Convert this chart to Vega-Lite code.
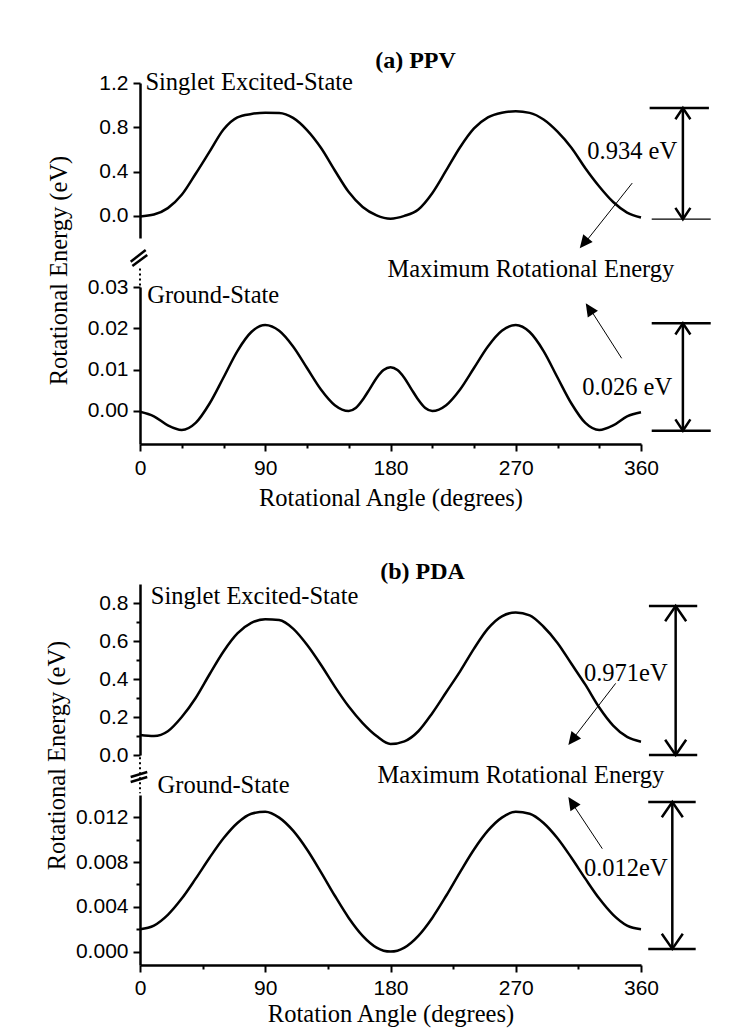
{
  "$schema": "https://vega.github.io/schema/vega-lite/v6.json",
  "background": "white",
  "padding": {"left": 44, "top": 48, "right": 5, "bottom": 5},
  "bounds": "flush",
  "spacing": 0,
  "resolve": {"scale": {"x": "independent", "y": "independent"}, "axis": {"x": "independent", "y": "independent"}},
  "config": {
    "view": {"stroke": null},
    "axis": {"labelFont": "Liberation Sans", "labelFontSize": 21, "labelColor": "black", "titleFont": "Liberation Serif", "titleFontSize": 24.5, "titleFontWeight": "normal", "titleColor": "black", "domainColor": "black", "domainWidth": 2.5, "tickColor": "black", "tickWidth": 2, "grid": false, "labelFlush": false, "labelOverlap": false},
    "title": {"font": "Liberation Serif", "fontSize": 24, "fontWeight": "bold", "color": "black"},
    "text": {"font": "Liberation Serif", "fontSize": 24.5, "color": "black"}
  },
  "datasets": {
    "ppv_singlet": [
      {"angle": 0, "energy": -0.005}, {"angle": 10, "energy": 0.012}, {"angle": 20, "energy": 0.07}, {"angle": 30, "energy": 0.19},
      {"angle": 40, "energy": 0.38}, {"angle": 50, "energy": 0.58}, {"angle": 60, "energy": 0.78}, {"angle": 70, "energy": 0.89},
      {"angle": 80, "energy": 0.92}, {"angle": 90, "energy": 0.932}, {"angle": 100, "energy": 0.93}, {"angle": 110, "energy": 0.885},
      {"angle": 120, "energy": 0.775}, {"angle": 130, "energy": 0.615}, {"angle": 140, "energy": 0.41}, {"angle": 150, "energy": 0.215},
      {"angle": 160, "energy": 0.08}, {"angle": 170, "energy": 0.005}, {"angle": 180, "energy": -0.025}, {"angle": 190, "energy": 0.0},
      {"angle": 200, "energy": 0.058}, {"angle": 210, "energy": 0.205}, {"angle": 220, "energy": 0.41}, {"angle": 230, "energy": 0.62},
      {"angle": 240, "energy": 0.79}, {"angle": 250, "energy": 0.89}, {"angle": 260, "energy": 0.932}, {"angle": 270, "energy": 0.945},
      {"angle": 280, "energy": 0.93}, {"angle": 290, "energy": 0.87}, {"angle": 300, "energy": 0.76}, {"angle": 310, "energy": 0.615},
      {"angle": 320, "energy": 0.43}, {"angle": 330, "energy": 0.265}, {"angle": 340, "energy": 0.125}, {"angle": 350, "energy": 0.03},
      {"angle": 360, "energy": -0.015}
    ],
    "ppv_ground": [
      {"angle": 0, "energy": -0.0002}, {"angle": 10, "energy": -0.0013}, {"angle": 20, "energy": -0.0035}, {"angle": 30, "energy": -0.0046},
      {"angle": 40, "energy": -0.0029}, {"angle": 50, "energy": 0.0018}, {"angle": 60, "energy": 0.0081}, {"angle": 70, "energy": 0.0145},
      {"angle": 80, "energy": 0.0191}, {"angle": 90, "energy": 0.0208}, {"angle": 100, "energy": 0.0194}, {"angle": 110, "energy": 0.0156},
      {"angle": 120, "energy": 0.0104}, {"angle": 130, "energy": 0.0052}, {"angle": 140, "energy": 0.0014}, {"angle": 150, "energy": 0.0},
      {"angle": 155, "energy": 0.0007}, {"angle": 160, "energy": 0.0027}, {"angle": 165, "energy": 0.0053}, {"angle": 170, "energy": 0.008},
      {"angle": 175, "energy": 0.0099}, {"angle": 180, "energy": 0.0106}, {"angle": 185, "energy": 0.0099}, {"angle": 190, "energy": 0.008},
      {"angle": 195, "energy": 0.0053}, {"angle": 200, "energy": 0.0027}, {"angle": 205, "energy": 0.0007}, {"angle": 210, "energy": 0.0},
      {"angle": 220, "energy": 0.0014}, {"angle": 230, "energy": 0.0052}, {"angle": 240, "energy": 0.0104}, {"angle": 250, "energy": 0.0156},
      {"angle": 260, "energy": 0.0194}, {"angle": 270, "energy": 0.0208}, {"angle": 280, "energy": 0.0191}, {"angle": 290, "energy": 0.0145},
      {"angle": 300, "energy": 0.0081}, {"angle": 310, "energy": 0.0018}, {"angle": 320, "energy": -0.0029}, {"angle": 330, "energy": -0.0046},
      {"angle": 340, "energy": -0.0035}, {"angle": 350, "energy": -0.0013}, {"angle": 360, "energy": -0.0003}
    ],
    "pda_singlet": [
      {"angle": 0, "energy": 0.105}, {"angle": 10, "energy": 0.1}, {"angle": 20, "energy": 0.125}, {"angle": 30, "energy": 0.2},
      {"angle": 40, "energy": 0.3}, {"angle": 50, "energy": 0.425}, {"angle": 60, "energy": 0.545}, {"angle": 70, "energy": 0.64},
      {"angle": 80, "energy": 0.695}, {"angle": 90, "energy": 0.715}, {"angle": 100, "energy": 0.71}, {"angle": 110, "energy": 0.665},
      {"angle": 120, "energy": 0.58}, {"angle": 130, "energy": 0.475}, {"angle": 140, "energy": 0.36}, {"angle": 150, "energy": 0.255},
      {"angle": 160, "energy": 0.168}, {"angle": 170, "energy": 0.1}, {"angle": 180, "energy": 0.058}, {"angle": 190, "energy": 0.072},
      {"angle": 200, "energy": 0.125}, {"angle": 210, "energy": 0.22}, {"angle": 220, "energy": 0.33}, {"angle": 230, "energy": 0.44},
      {"angle": 240, "energy": 0.56}, {"angle": 250, "energy": 0.665}, {"angle": 260, "energy": 0.73}, {"angle": 270, "energy": 0.75},
      {"angle": 280, "energy": 0.735}, {"angle": 290, "energy": 0.675}, {"angle": 300, "energy": 0.59}, {"angle": 310, "energy": 0.48},
      {"angle": 320, "energy": 0.37}, {"angle": 330, "energy": 0.25}, {"angle": 340, "energy": 0.155}, {"angle": 350, "energy": 0.095},
      {"angle": 360, "energy": 0.07}
    ],
    "pda_ground": [
      {"angle": 0, "energy": 0.002}, {"angle": 10, "energy": 0.00233}, {"angle": 20, "energy": 0.00329}, {"angle": 30, "energy": 0.00474},
      {"angle": 40, "energy": 0.00652}, {"angle": 50, "energy": 0.00839}, {"angle": 60, "energy": 0.01013}, {"angle": 70, "energy": 0.0115},
      {"angle": 80, "energy": 0.01233}, {"angle": 90, "energy": 0.0125}, {"angle": 100, "energy": 0.01198}, {"angle": 110, "energy": 0.01081},
      {"angle": 120, "energy": 0.00913}, {"angle": 130, "energy": 0.00711}, {"angle": 140, "energy": 0.00499}, {"angle": 150, "energy": 0.00301},
      {"angle": 160, "energy": 0.00141}, {"angle": 170, "energy": 0.00036}, {"angle": 180, "energy": 0.0}, {"angle": 190, "energy": 0.00036},
      {"angle": 200, "energy": 0.00141}, {"angle": 210, "energy": 0.00301}, {"angle": 220, "energy": 0.00499}, {"angle": 230, "energy": 0.00711},
      {"angle": 240, "energy": 0.00913}, {"angle": 250, "energy": 0.01081}, {"angle": 260, "energy": 0.01198}, {"angle": 270, "energy": 0.0125},
      {"angle": 280, "energy": 0.01233}, {"angle": 290, "energy": 0.0115}, {"angle": 300, "energy": 0.01013}, {"angle": 310, "energy": 0.00839},
      {"angle": 320, "energy": 0.00652}, {"angle": 330, "energy": 0.00474}, {"angle": 340, "energy": 0.00329}, {"angle": 350, "energy": 0.00233},
      {"angle": 360, "energy": 0.002}
    ]
  },
  "vconcat": [
    {
      "width": 501, "height": 155,
      "title": {"text": "(a) PPV", "frame": "group", "anchor": "middle", "baseline": "alphabetic", "offset": -22, "dx": 25},
      "encoding": {
        "x": {"field": "angle", "type": "quantitative", "scale": {"domain": [0, 360], "nice": false, "zero": false}, "axis": null},
        "y": {"field": "energy", "type": "quantitative", "scale": {"domain": [-0.2, 1.2], "nice": false, "zero": false},
              "axis": {"values": [0, 0.4, 0.8, 1.2], "format": ".1f", "tickSize": 7, "labelPadding": 5, "title": "Rotational Energy (eV)", "titleX": -80.7, "titleY": 187, "titleBaseline": "middle", "titleAngle": -90}}
      },
      "layer": [
        {"data": {"name": "ppv_singlet"}, "mark": {"type": "line", "color": "black", "strokeWidth": 2.5, "interpolate": "monotone"}},
        {"data": {"values": [{"angle": 3.9, "energy": 1.139, "label": "Singlet Excited-State"}, {"angle": 321.4, "energy": 0.513, "label": "0.934 eV"}]},
         "mark": {"type": "text", "align": "left", "baseline": "alphabetic"}, "encoding": {"text": {"field": "label"}}},
        {"data": {"values": [{"angle": 366.2, "energy": 0.974, "angle2": 408.8, "energy2": 0.974}, {"angle": 390.1, "energy": -0.03, "angle2": 390.1, "energy2": 0.974}]},
         "mark": {"type": "rule", "color": "black", "strokeWidth": 2.5}, "encoding": {"x2": {"field": "angle2"}, "y2": {"field": "energy2"}}},
        {"data": {"values": [{"angle": 367.7, "energy": -0.03, "angle2": 410.1, "energy2": -0.03}]},
         "mark": {"type": "rule", "color": "black", "strokeWidth": 1.2}, "encoding": {"x2": {"field": "angle2"}, "y2": {"field": "energy2"}}},
        {"data": {"values": [{"angle": 353.7, "energy": 0.296, "angle2": 318, "energy2": -0.27}]},
         "mark": {"type": "rule", "color": "black", "strokeWidth": 1}, "encoding": {"x2": {"field": "angle2"}, "y2": {"field": "energy2"}}},
        {"data": {"values": [{"angle": 390.1, "energy": 0.974}]},
         "mark": {"type": "point", "shape": "M-1,1.5L0,0L1,1.5", "filled": false, "color": "black", "opacity": 1, "strokeWidth": 2.5, "size": 225}},
        {"data": {"values": [{"angle": 390.1, "energy": -0.03}]},
         "mark": {"type": "point", "shape": "M-1,-1.5L0,0L1,-1.5", "filled": false, "color": "black", "opacity": 1, "strokeWidth": 2.5, "size": 225}},
        {"data": {"values": [{"angle": 316, "energy": -0.292}]},
         "mark": {"type": "point", "shape": "M0,0L0.7,1.5L-0.7,1.5Z", "filled": true, "color": "black", "opacity": 1, "size": 300, "angle": 219}}
      ]
    },
    {"width": 501, "height": 49, "data": {"values": []}, "mark": "point"},
    {
      "width": 501, "height": 157,
      "encoding": {
        "x": {"field": "angle", "type": "quantitative", "scale": {"domain": [0, 360], "nice": false, "zero": false},
              "axis": {"values": [0, 30, 60, 90, 120, 150, 180, 210, 240, 270, 300, 330, 360], "labelExpr": "datum.value % 90 === 0 ? datum.label : ''",
                       "tickSize": {"condition": {"test": "datum.value % 90 === 0", "value": 7}, "value": 4}, "labelPadding": 6,
                       "title": "Rotational Angle (degrees)", "titleBaseline": "alphabetic", "titleY": 61}},
        "y": {"field": "energy", "type": "quantitative", "scale": {"domain": [-0.008, 0.03], "nice": false, "zero": false},
              "axis": {"values": [0, 0.01, 0.02, 0.03], "format": ".2f", "tickSize": 7, "labelPadding": 5, "title": null}}
      },
      "layer": [
        {"data": {"name": "ppv_ground"}, "mark": {"type": "line", "color": "black", "strokeWidth": 2.5, "interpolate": "monotone"}},
        {"data": {"values": [{"angle": 5.2, "energy": 0.02606, "label": "Ground-State"}, {"angle": 177.9, "energy": 0.03235, "label": "Maximum Rotational Energy"}, {"angle": 317.8, "energy": 0.00387, "label": "0.026 eV"}]},
         "mark": {"type": "text", "align": "left", "baseline": "alphabetic"}, "encoding": {"text": {"field": "label"}}},
        {"data": {"values": [{"angle": 367.7, "energy": 0.02122, "angle2": 410.1, "energy2": 0.02122}, {"angle": 367.7, "energy": -0.00477, "angle2": 410.1, "energy2": -0.00477}, {"angle": 390.1, "energy": -0.00477, "angle2": 390.1, "energy2": 0.02122},
                             {"angle": -6.7, "energy": 0.03612, "angle2": 4.1, "energy2": 0.03896}, {"angle": -5.5, "energy": 0.03508, "angle2": 5.2, "energy2": 0.03775}]},
         "mark": {"type": "rule", "color": "black", "strokeWidth": 2.5}, "encoding": {"x2": {"field": "angle2"}, "y2": {"field": "energy2"}}},
        {"data": {"values": [{"angle": 346.1, "energy": 0.01275, "angle2": 321.5, "energy2": 0.0257}]},
         "mark": {"type": "rule", "color": "black", "strokeWidth": 1}, "encoding": {"x2": {"field": "angle2"}, "y2": {"field": "energy2"}}},
        {"data": {"values": [{"angle": 0, "energy": 0.0345, "angle2": 0, "energy2": 0.0302}]},
         "mark": {"type": "rule", "color": "black", "strokeWidth": 2, "strokeDash": [2, 3]}, "encoding": {"x2": {"field": "angle2"}, "y2": {"field": "energy2"}}},
        {"data": {"values": [{"angle": 390.1, "energy": 0.02122}]},
         "mark": {"type": "point", "shape": "M-1,1.5L0,0L1,1.5", "filled": false, "color": "black", "opacity": 1, "strokeWidth": 2.5, "size": 225}},
        {"data": {"values": [{"angle": 390.1, "energy": -0.00477}]},
         "mark": {"type": "point", "shape": "M-1,-1.5L0,0L1,-1.5", "filled": false, "color": "black", "opacity": 1, "strokeWidth": 2.5, "size": 225}},
        {"data": {"values": [{"angle": 320.3, "energy": 0.02606}]},
         "mark": {"type": "point", "shape": "M0,0L0.7,1.5L-0.7,1.5Z", "filled": true, "color": "black", "opacity": 1, "size": 300, "angle": 326.8}}
      ]
    },
    {"width": 501, "height": 140, "data": {"values": []}, "mark": "point"},
    {
      "width": 501, "height": 171,
      "title": {"text": "(b) PDA", "frame": "group", "anchor": "middle", "baseline": "alphabetic", "offset": -19, "dx": 32},
      "encoding": {
        "x": {"field": "angle", "type": "quantitative", "scale": {"domain": [0, 360], "nice": false, "zero": false}, "axis": null},
        "y": {"field": "energy", "type": "quantitative", "scale": {"domain": [0, 0.9], "nice": false, "zero": false},
              "axis": {"values": [0, 0.1, 0.2, 0.3, 0.4, 0.5, 0.6, 0.7, 0.8], "labelExpr": "round(datum.value * 10) % 2 === 0 ? format(datum.value, '.1f') : ''",
                       "tickSize": {"condition": {"test": "round(datum.value * 10) % 2 === 0", "value": 7}, "value": 4}, "labelPadding": 5,
                       "title": "Rotational Energy (eV)", "titleX": -82.4, "titleY": 171, "titleBaseline": "middle", "titleAngle": -90}}
      },
      "layer": [
        {"data": {"name": "pda_singlet"}, "mark": {"type": "line", "color": "black", "strokeWidth": 2.5, "interpolate": "monotone"}},
        {"data": {"values": [{"angle": 7.8, "energy": 0.795, "label": "Singlet Excited-State"}, {"angle": 319, "energy": 0.391, "label": "0.971eV"}]},
         "mark": {"type": "text", "align": "left", "baseline": "alphabetic"}, "encoding": {"text": {"field": "label"}}},
        {"data": {"values": [{"angle": 365.7, "energy": 0.784, "angle2": 400.4, "energy2": 0.784}, {"angle": 365.7, "energy": 0.0, "angle2": 400.4, "energy2": 0.0}, {"angle": 384.9, "energy": 0.0, "angle2": 384.9, "energy2": 0.784}]},
         "mark": {"type": "rule", "color": "black", "strokeWidth": 2.5}, "encoding": {"x2": {"field": "angle2"}, "y2": {"field": "energy2"}}},
        {"data": {"values": [{"angle": 341.8, "energy": 0.377, "angle2": 309.5, "energy2": 0.07}]},
         "mark": {"type": "rule", "color": "black", "strokeWidth": 1}, "encoding": {"x2": {"field": "angle2"}, "y2": {"field": "energy2"}}},
        {"data": {"values": [{"angle": 384.9, "energy": 0.784}]},
         "mark": {"type": "point", "shape": "M-1,1.45L0,0L1,1.45", "filled": false, "color": "black", "opacity": 1, "strokeWidth": 2.5, "size": 441}},
        {"data": {"values": [{"angle": 384.9, "energy": 0.0}]},
         "mark": {"type": "point", "shape": "M-1,-1.45L0,0L1,-1.45", "filled": false, "color": "black", "opacity": 1, "strokeWidth": 2.5, "size": 441}},
        {"data": {"values": [{"angle": 307.8, "energy": 0.0526}]},
         "mark": {"type": "point", "shape": "M0,0L0.7,1.5L-0.7,1.5Z", "filled": true, "color": "black", "opacity": 1, "size": 300, "angle": 217.5}}
      ]
    },
    {"width": 501, "height": 40, "data": {"values": []}, "mark": "point"},
    {
      "width": 501, "height": 170,
      "encoding": {
        "x": {"field": "angle", "type": "quantitative", "scale": {"domain": [0, 360], "nice": false, "zero": false},
              "axis": {"values": [0, 45, 90, 135, 180, 225, 270, 315, 360], "labelExpr": "datum.value % 90 === 0 ? datum.label : ''",
                       "tickSize": {"condition": {"test": "datum.value % 90 === 0", "value": 7}, "value": 4}, "labelPadding": 5,
                       "title": "Rotation Angle (degrees)", "titleBaseline": "alphabetic", "titleY": 56}},
        "y": {"field": "energy", "type": "quantitative", "scale": {"domain": [-0.0012, 0.014], "nice": false, "zero": false},
              "axis": {"values": [0, 0.002, 0.004, 0.006, 0.008, 0.01, 0.012], "labelExpr": "round(datum.value * 1000) % 4 === 0 ? format(datum.value, '.3f') : ''",
                       "tickSize": {"condition": {"test": "round(datum.value * 1000) % 4 === 0", "value": 7}, "value": 4}, "labelPadding": 5, "title": null}}
      },
      "layer": [
        {"data": {"name": "pda_ground"}, "mark": {"type": "line", "color": "black", "strokeWidth": 2.5, "interpolate": "monotone"}},
        {"data": {"values": [{"angle": 12.6, "energy": 0.01415, "label": "Ground-State"}, {"angle": 170.7, "energy": 0.01507, "label": "Maximum Rotational Energy"}, {"angle": 319, "energy": 0.00672, "label": "0.012eV"}]},
         "mark": {"type": "text", "align": "left", "baseline": "alphabetic"}, "encoding": {"text": {"field": "label"}}},
        {"data": {"values": [{"angle": 365.2, "energy": 0.01337, "angle2": 399.3, "energy2": 0.01337}, {"angle": 365.2, "energy": 0.00024, "angle2": 399.3, "energy2": 0.00024}, {"angle": 382.5, "energy": 0.00024, "angle2": 382.5, "energy2": 0.01337},
                             {"angle": -6.7, "energy": 0.01561, "angle2": 5.2, "energy2": 0.01606}, {"angle": -6.7, "energy": 0.01516, "angle2": 5.2, "energy2": 0.01561}]},
         "mark": {"type": "rule", "color": "black", "strokeWidth": 2.5}, "encoding": {"x2": {"field": "angle2"}, "y2": {"field": "energy2"}}},
        {"data": {"values": [{"angle": 332.2, "energy": 0.0092, "angle2": 309, "energy2": 0.01355}]},
         "mark": {"type": "rule", "color": "black", "strokeWidth": 1}, "encoding": {"x2": {"field": "angle2"}, "y2": {"field": "energy2"}}},
        {"data": {"values": [{"angle": 0, "energy": 0.01737, "angle2": 0, "energy2": 0.01415}]},
         "mark": {"type": "rule", "color": "black", "strokeWidth": 2, "strokeDash": [2, 3]}, "encoding": {"x2": {"field": "angle2"}, "y2": {"field": "energy2"}}},
        {"data": {"values": [{"angle": 382.5, "energy": 0.01337}]},
         "mark": {"type": "point", "shape": "M-1,1.45L0,0L1,1.45", "filled": false, "color": "black", "opacity": 1, "strokeWidth": 2.5, "size": 441}},
        {"data": {"values": [{"angle": 382.5, "energy": 0.00024}]},
         "mark": {"type": "point", "shape": "M-1,-1.45L0,0L1,-1.45", "filled": false, "color": "black", "opacity": 1, "strokeWidth": 2.5, "size": 441}},
        {"data": {"values": [{"angle": 307.8, "energy": 0.01382}]},
         "mark": {"type": "point", "shape": "M0,0L0.7,1.5L-0.7,1.5Z", "filled": true, "color": "black", "opacity": 1, "size": 300, "angle": 326.6}}
      ]
    }
  ]
}
